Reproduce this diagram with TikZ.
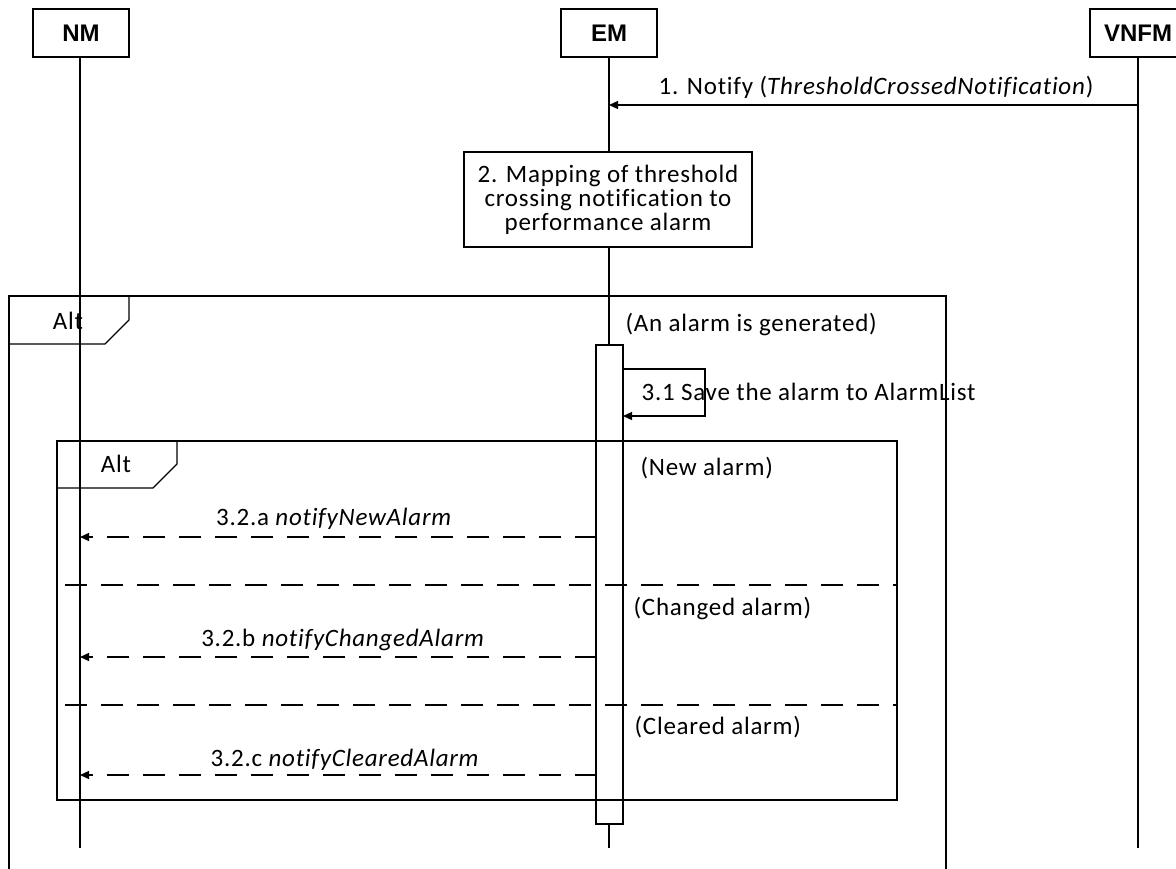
\documentclass[tikz,border=0pt]{standalone}
\usepackage{fontspec}
\setmainfont{Carlito}[LetterSpace=3,Ligatures={NoCommon}]
\newfontfamily\hdfont{Liberation Sans}
\usetikzlibrary{arrows.meta}
\tikzset{
  hdr/.style={draw, fill=white, minimum width=96pt, minimum height=48pt, inner sep=0pt,
    font=\hdfont\bfseries\fontsize{24}{28}\selectfont},
  lbl/.style={inner sep=0pt, font=\fontsize{25}{25}\selectfont},
  msg/.style={-{Triangle[length=9pt,width=8pt]}},
  ret/.style={-{Triangle[length=9pt,width=8pt]}, dash pattern=on 22pt off 14pt},
  sep/.style={dash pattern=on 22pt off 14pt},
  procbox/.style={draw, fill=white, minimum width=288pt, minimum height=95pt, align=center,
    inner sep=0pt, font=\fontsize{25}{24}\selectfont},
  bar/.style={draw, fill=white},
}
\begin{document}
\begin{tikzpicture}[x=1pt,y=-1pt,line width=1.3pt]
\useasboundingbox (0,0) rectangle (1176,868);
% headers
\node[hdr] (nm) at (81,33) {NM};
\node[hdr] (em) at (609,33) {EM};
\node[hdr] (vnfm) at (1138,33) {VNFM};
\coordinate (nmEnd) at (80,848);
\coordinate (emEnd) at (609,848);
\coordinate (vnfmEnd) at (1138,848);
\draw (nm.south -| nmEnd) -- (nmEnd);
\draw (em.south) -- (emEnd);
\draw (vnfm.south) -- (vnfmEnd);
% message 1
\coordinate (m1s) at (1138,105);
\coordinate (m1e) at (609,105);
\draw[msg] (m1s) -- (m1e);
\node[lbl] (m1l) at (876,87) {1. Notify (\textit{ThresholdCrossedNotification})};
% box 2
\node[procbox] (map) at (608,199.5) {2. Mapping of threshold\\crossing notification to\\performance alarm};
% outer alt frame
\draw (9,880) -- (9,296) -- (946,296) -- (946,880);
\draw (9,344) -- (105,344) -- (129,320) -- (129,296);
\node[lbl] (alt1) at (68,321) {Alt};
\node[lbl, anchor=west] (gen) at (625,324) {(An alarm is generated)};
% activation bar
\draw[bar] (596,345) rectangle (623,824);
% self loop
\coordinate (s1) at (623,369);
\coordinate (s2) at (705,369);
\coordinate (s3) at (705,416);
\coordinate (s4) at (623,416);
\draw[msg] (s1) -- (s2) -- (s3) -- (s4);
\node[lbl, anchor=west] (save) at (641,392) {3.1 Save the alarm to AlarmList};
% inner alt frame
\draw (57,441) rectangle (897,800);
\draw (57,488) -- (153,488) -- (177,464) -- (177,441);
\node[lbl] (alt2) at (116,464) {Alt};
\node[lbl, anchor=west] (newa) at (640,468) {(New alarm)};
% return a
\coordinate (ra1) at (597,537);
\coordinate (ra2) at (80,537);
\draw[ret] (ra1) -- (ra2);
\node[lbl] (lra) at (334,519) {3.2.a \textit{notifyNewAlarm}};
% separator
\coordinate (sp1a) at (65,585);
\coordinate (sp1b) at (897,585);
\draw[sep] (sp1a) -- (sp1b);
\node[lbl, anchor=west] (chg) at (633,608) {(Changed alarm)};
% return b
\coordinate (rb1) at (597,657);
\coordinate (rb2) at (80,657);
\draw[ret] (rb1) -- (rb2);
\node[lbl] (lrb) at (343,640) {3.2.b \textit{notifyChangedAlarm}};
% separator 2
\coordinate (sp2a) at (65,705);
\coordinate (sp2b) at (897,705);
\draw[sep] (sp2a) -- (sp2b);
\node[lbl, anchor=west] (clr) at (634,727) {(Cleared alarm)};
% return c
\coordinate (rc1) at (597,775);
\coordinate (rc2) at (80,775);
\draw[ret] (rc1) -- (rc2);
\node[lbl] (lrc) at (345,760) {3.2.c \textit{notifyClearedAlarm}};
\end{tikzpicture}
\end{document}
